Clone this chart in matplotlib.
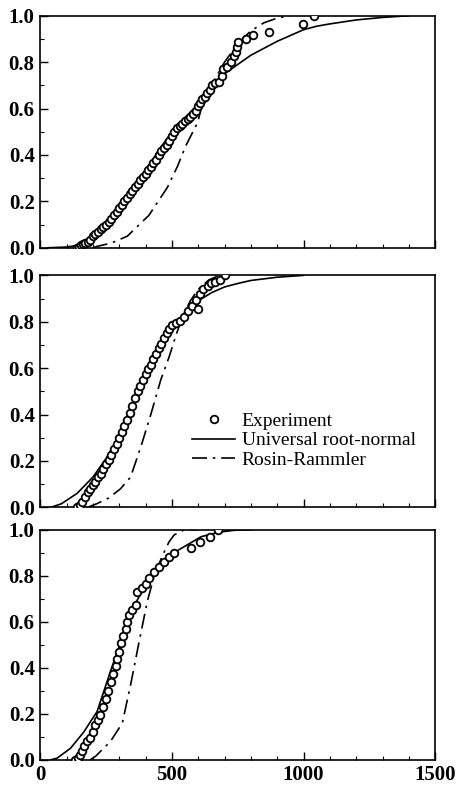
import matplotlib
matplotlib.use('Agg')
import matplotlib.pyplot as plt
from matplotlib.ticker import MultipleLocator, FormatStrFormatter

plt.rcParams['font.family'] = ['Liberation Serif', 'DejaVu Serif']

# ---- Panel 1 (top) ----
exp1_x = [140, 148, 156, 164, 172, 180, 190, 200, 210, 220,
          230, 240, 250, 260, 270, 280, 290, 300, 310, 320,
          330, 340, 350, 360, 370, 380, 390, 400, 410, 420,
          430, 440, 450, 460, 470, 480, 490, 500, 510, 520,
          530, 540, 550, 560, 570, 580, 590, 598, 605, 615,
          625, 635, 645, 652, 665, 680, 690, 695, 710, 725,
          735, 742, 748, 752, 782, 808, 868, 999, 1041]
exp1_y = [0.000, 0.005, 0.010, 0.015, 0.020, 0.025, 0.035, 0.050, 0.060, 0.070,
          0.080, 0.090, 0.100, 0.110, 0.125, 0.140, 0.155, 0.170, 0.185, 0.200,
          0.215, 0.230, 0.245, 0.260, 0.275, 0.290, 0.305, 0.320, 0.335, 0.350,
          0.365, 0.380, 0.400, 0.415, 0.430, 0.445, 0.460, 0.480, 0.500, 0.515,
          0.525, 0.535, 0.545, 0.555, 0.565, 0.575, 0.590, 0.610, 0.625, 0.640,
          0.650, 0.665, 0.680, 0.700, 0.710, 0.715, 0.740, 0.770, 0.780, 0.800,
          0.825, 0.845, 0.865, 0.885, 0.900, 0.915, 0.930, 0.965, 1.000]
urn1_x = [30, 100, 150, 200, 250, 300, 350, 400, 450, 500, 550, 600, 650,
          700, 750, 800, 850, 900, 950, 1000, 1050, 1100, 1200, 1300, 1400]
urn1_y = [0.0, 0.003, 0.012, 0.035, 0.08, 0.15, 0.24, 0.33, 0.42, 0.50, 0.56, 0.62, 0.69,
          0.75, 0.79, 0.83, 0.86, 0.89, 0.915, 0.94, 0.955, 0.965, 0.982, 0.993, 1.0]
rr1_x = [200, 216, 270, 331, 413, 483, 521, 553, 598, 611, 650, 700, 750, 800, 850, 900, 950]
rr1_y = [0.0, 0.006, 0.02, 0.05, 0.14, 0.26, 0.35, 0.44, 0.54, 0.60, 0.70, 0.80, 0.88,
         0.935, 0.97, 0.99, 1.0]

# ---- Panel 2 (middle) ----
exp2_x = [140, 150, 160, 170, 180, 190, 200, 210, 220, 230,
          240, 250, 260, 270, 280, 290, 300, 310, 320, 330,
          340, 350, 360, 370, 380, 390, 400, 410, 420, 430,
          440, 450, 460, 470, 480, 490, 500, 515, 530, 545,
          560, 575, 590, 600, 605, 620, 636, 650, 662, 681, 700]
exp2_y = [0.000, 0.010, 0.025, 0.045, 0.065, 0.080, 0.095, 0.110, 0.130, 0.145,
          0.165, 0.185, 0.205, 0.225, 0.250, 0.275, 0.300, 0.325, 0.350, 0.375,
          0.405, 0.435, 0.470, 0.500, 0.525, 0.550, 0.575, 0.595, 0.615, 0.640,
          0.660, 0.685, 0.705, 0.730, 0.750, 0.770, 0.785, 0.795, 0.805, 0.820,
          0.845, 0.870, 0.895, 0.855, 0.920, 0.940, 0.955, 0.965, 0.970, 0.980, 1.000]
urn2_x = [40, 80, 140, 200, 250, 300, 350, 400, 450, 500, 550, 600,
          650, 700, 750, 800, 900, 1000]
urn2_y = [0.0, 0.015, 0.06, 0.13, 0.21, 0.31, 0.43, 0.55, 0.66, 0.76, 0.84, 0.89,
          0.925, 0.95, 0.965, 0.978, 0.992, 1.0]
rr2_x = [180, 216, 260, 305, 343, 382, 420, 458, 490, 515, 540, 570, 600, 640, 680]
rr2_y = [0.0, 0.016, 0.04, 0.08, 0.13, 0.26, 0.40, 0.55, 0.65, 0.74, 0.82, 0.89,
         0.94, 0.98, 1.0]

# ---- Panel 3 (bottom) ----
exp3_x = [134, 142, 150, 159, 168, 178, 191, 200, 210, 220,
          229, 238, 248, 258, 267, 277, 286, 292, 299, 305,
          315, 324, 330, 337, 350, 363, 369, 385, 401, 415,
          432, 450, 471, 490, 509, 573, 605, 643, 674]
exp3_y = [0.000, 0.010, 0.020, 0.040, 0.060, 0.080, 0.095, 0.120, 0.150, 0.175,
          0.195, 0.230, 0.265, 0.300, 0.340, 0.375, 0.410, 0.440, 0.470, 0.510,
          0.540, 0.570, 0.600, 0.630, 0.650, 0.675, 0.730, 0.745, 0.765, 0.790,
          0.815, 0.840, 0.860, 0.880, 0.900, 0.920, 0.945, 0.970, 1.000]
urn3_x = [40, 64, 115, 165, 216, 267, 312, 344, 394, 446, 522, 611, 680, 738, 800]
urn3_y = [0.0, 0.007, 0.05, 0.12, 0.21, 0.385, 0.53, 0.645, 0.746, 0.818, 0.91, 0.97,
          0.99, 0.998, 1.0]
rr3_x = [190, 210, 267, 312, 344, 375, 407, 433, 465, 490, 509, 547, 600]
rr3_y = [0.0, 0.015, 0.08, 0.16, 0.33, 0.51, 0.69, 0.80, 0.89, 0.949, 0.978, 1.0, 1.0]

panels = [(exp1_x, exp1_y, urn1_x, urn1_y, rr1_x, rr1_y),
          (exp2_x, exp2_y, urn2_x, urn2_y, rr2_x, rr2_y),
          (exp3_x, exp3_y, urn3_x, urn3_y, rr3_x, rr3_y)]

# axes boxes in figure fractions, top to bottom
boxes = [[0.087, 0.686, 0.855, 0.294],
         [0.087, 0.357, 0.855, 0.294],
         [0.087, 0.037, 0.855, 0.2915]]

dashdot = (0, (9, 3.5, 1.5, 3.5))
tick_font = {'family': ['Liberation Serif'], 'weight': 'bold', 'size': 15}

fig = plt.figure(figsize=(4.62, 7.89), dpi=100)

for i, (ex, ey, ux, uy, rx, ry) in enumerate(panels):
    ax = fig.add_axes(boxes[i])
    ax.plot(ux, uy, color='black', lw=1.2, label='Universal root-normal')
    ax.plot(rx, ry, color='black', lw=1.2, linestyle=dashdot, label='Rosin-Rammler')
    ax.plot(ex, ey, 'o', ms=5.5, mfc='white', mec='black', mew=1.3,
            label='Experiment', zorder=5)

    ax.set_xlim(0, 1500)
    ax.set_ylim(0, 1.0)
    ax.xaxis.set_major_locator(MultipleLocator(500))
    ax.xaxis.set_minor_locator(MultipleLocator(100))
    ax.yaxis.set_major_locator(MultipleLocator(0.2))
    ax.yaxis.set_minor_locator(MultipleLocator(0.1))
    ax.yaxis.set_major_formatter(FormatStrFormatter('%.1f'))
    ax.tick_params(which='both', direction='in', top=False, right=False)
    ax.tick_params(which='major', length=6, width=1, pad=4)
    ax.tick_params(which='minor', length=3, width=0.8)
    for s in ax.spines.values():
        s.set_linewidth(1.2)
    for lab in ax.get_yticklabels():
        lab.set_fontproperties(tick_font)
    if i < 2:
        ax.set_xticklabels([])
    else:
        for lab in ax.get_xticklabels():
            lab.set_fontproperties(tick_font)

    if i == 1:
        h, l = ax.get_legend_handles_labels()
        order = [2, 0, 1]
        ax.legend([h[k] for k in order], [l[k] for k in order],
                  loc='upper left', bbox_to_anchor=(0.385, 0.41), frameon=False,
                  prop={'family': 'Liberation Serif', 'size': 14},
                  handlelength=2.2, handletextpad=0.35, labelspacing=0.1,
                  borderpad=0, borderaxespad=0)

fig.savefig('out.png', dpi=100)
